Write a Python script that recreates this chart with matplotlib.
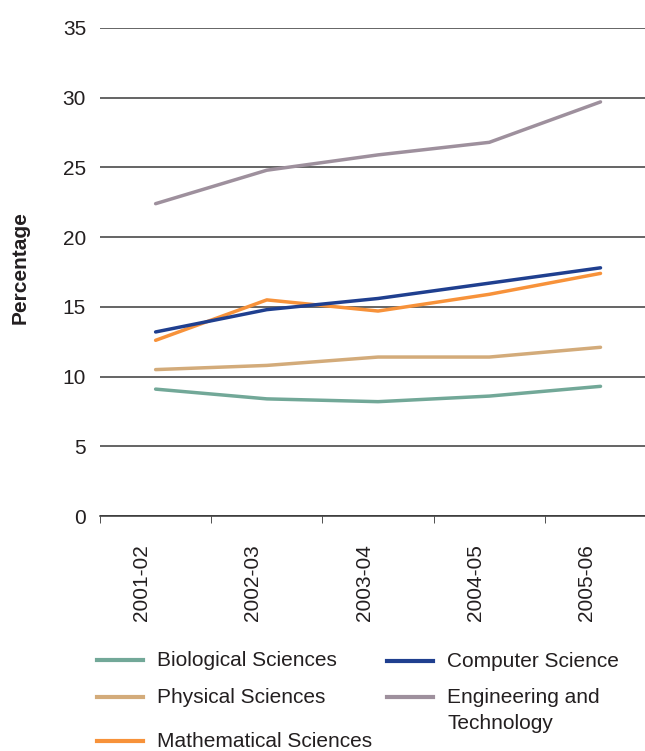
import matplotlib.pyplot as plt
import matplotlib.transforms as mtransforms
from matplotlib.lines import Line2D

plt.rcParams['font.family'] = ['Liberation Sans', 'DejaVu Sans']

years = ['2001-02', '2002-03', '2003-04', '2004-05', '2005-06']

biological = [9.1, 8.4, 8.2, 8.6, 9.3]
physical = [10.5, 10.8, 11.4, 11.4, 12.1]
mathematical = [12.6, 15.5, 14.7, 15.9, 17.4]
computer = [13.2, 14.8, 15.6, 16.7, 17.8]
engineering = [22.4, 24.8, 25.9, 26.8, 29.7]

series = [
    ('Biological Sciences', biological, '#72a898'),
    ('Physical Sciences', physical, '#d3ab7a'),
    ('Mathematical Sciences', mathematical, '#f7923a'),
    ('Computer Science', computer, '#1f3f8f'),
    ('Engineering and\nTechnology', engineering, '#9e909d'),
]

W, H = 645, 751
fig = plt.figure(figsize=(W / 100, H / 100), dpi=100)
ax = fig.add_axes([100 / W, 1 - 516 / H, 1 - 100 / W, (516 - 28) / H])

x = list(range(len(years)))
for name, vals, col in series:
    ax.plot(x, vals, color=col, lw=2.5, solid_capstyle='round', zorder=3)

ax.set_ylim(0, 35)
ax.set_yticks(range(0, 36, 5))
ax.set_xlim(-0.5, 4.4)
ax.set_xticks(x)
ax.set_xticklabels(years, rotation=90, fontsize=15, color='#231f20')
ax.set_xticks([i - 0.5 for i in range(len(years))], minor=True)
ax.tick_params(axis='x', which='major', length=0, pad=20)
ax.tick_params(axis='x', which='minor', length=5, direction='out', color='#333333')
ax.tick_params(axis='y', length=0, pad=10, labelsize=15, labelcolor='#231f20')
# nudge the category labels slightly left, as in the original
shift = mtransforms.ScaledTranslation(-14 / 100, 0, fig.dpi_scale_trans)
for lab in ax.get_xticklabels():
    lab.set_transform(lab.get_transform() + shift)

ax.grid(axis='y', color='#3a3a3a', lw=1.1)
ax.set_axisbelow(True)
for s in ['top', 'right', 'left']:
    ax.spines[s].set_visible(False)
ax.spines['bottom'].set_color('#333333')
ax.spines['bottom'].set_linewidth(1.1)

fig.text(20 / W, 1 - 268 / H, 'Percentage', rotation=90, fontsize=15, fontweight='bold',
         ha='center', va='center', color='#231f20')

# legend drawn by hand so the wrapped label keeps its line on the first row
slots = [(97, 660), (97, 697), (97, 741), (387, 661), (387, 697)]
for (name, vals, col), (lx, ly) in zip(series, slots):
    fig.add_artist(Line2D([lx / W, (lx + 46) / W], [1 - ly / H, 1 - ly / H],
                          color=col, lw=3, transform=fig.transFigure))
    fig.text((lx + 60) / W, 1 - (ly - 9) / H, name, fontsize=15, va='top',
             ha='left', color='#231f20', linespacing=1.45)

fig.savefig('out.png', dpi=100)
